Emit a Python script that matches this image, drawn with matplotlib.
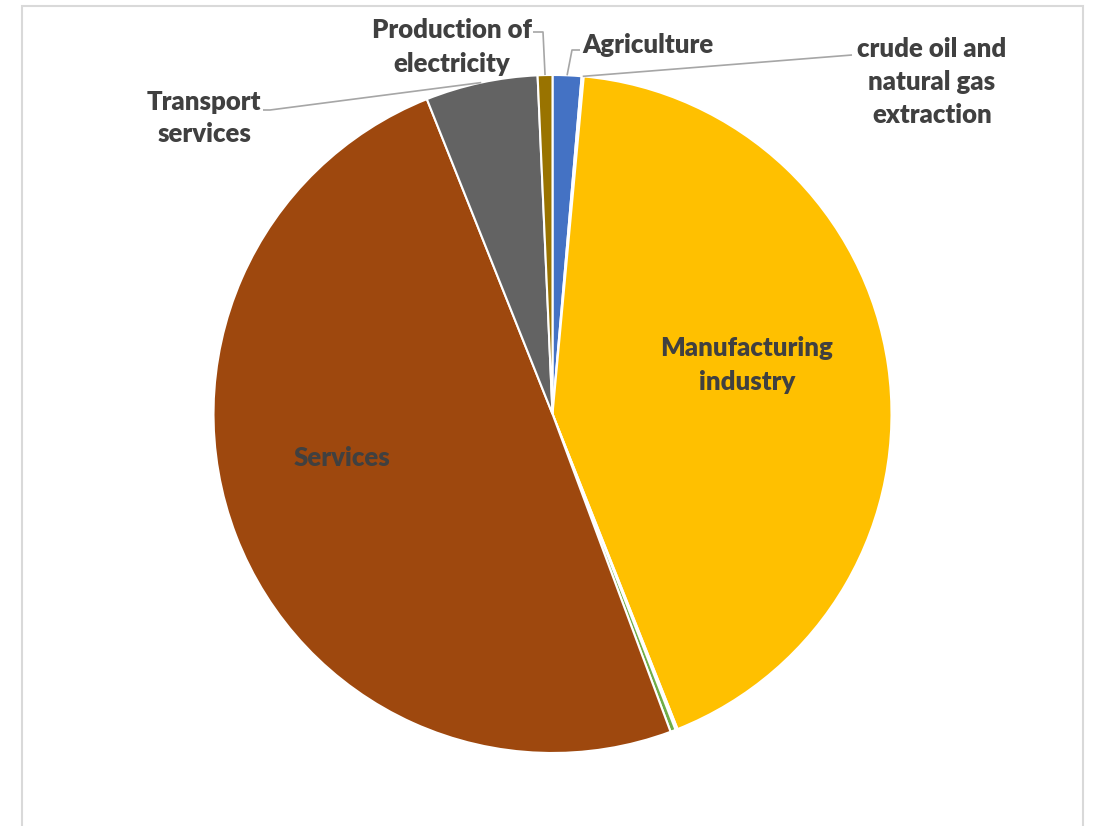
import matplotlib.pyplot as plt
import numpy as np
from matplotlib.patches import Rectangle

# ============== data ==============
sectors = ["Agriculture", "crude oil and\nnatural gas\nextraction", "Manufacturing\nindustry",
           "", "", "Services", "Transport\nservices", "Production of\nelectricity"]
shares = [1.37, 0.10, 42.5, 0.10, 0.25, 49.6, 5.34, 0.70]
colors = ['#4472C4', '#ED7D31', '#FFC000', '#5B9BD5', '#70AD47', '#9E480E', '#636363', '#997300']

plt.rcParams['font.family'] = ['Lato', 'DejaVu Sans']
W, H = 1094, 826
txt_color = '#404040'
line_color = '#A6A6A6'

fig = plt.figure(figsize=(W / 100, H / 100), dpi=100)
ax = fig.add_axes([0, 0, 1, 1])

# chart frame
ax.add_patch(Rectangle((21.5, -10), 1061.5, H - 5.5 + 10, fill=False,
                       edgecolor='#D9D9D9', linewidth=1.5))

cx, cy, r = 552.5, H - 414, 339
wedges, _ = ax.pie(shares, colors=colors, startangle=90, counterclock=False,
                   center=(cx, cy), radius=r, frame=True,
                   wedgeprops=dict(edgecolor='white', linewidth=1.5))
ax.set_xlim(0, W)
ax.set_ylim(0, H)
ax.set_aspect('equal')
ax.axis('off')


def rim(i):
    w = wedges[i]
    a = np.deg2rad((w.theta1 + w.theta2) / 2)
    return cx + r * np.cos(a), cy + r * np.sin(a)


fs = 18.5
lsp = 1.45
# labels inside
ax.text(747, H - 365, sectors[2], ha='center', va='center', fontsize=fs,
        fontweight='heavy', color=txt_color, linespacing=lsp)
ax.text(342, H - 458, sectors[5], ha='center', va='center', fontsize=fs,
        fontweight='heavy', color=txt_color)

# labels outside with leader lines
outside = {
    7: dict(pos=(452, 47), ha='center', path=[(533, 32), (543, 32)]),
    0: dict(pos=(582, 45), ha='left', path=[(580, 50), (572, 50)]),
    1: dict(pos=(932, 82), ha='center', path=[(852, 55)]),
    6: dict(pos=(204, 118), ha='center', path=[(263, 110), (270, 110)]),
}
for i, o in outside.items():
    x, y = o['pos']
    ax.text(x, H - y, sectors[i], ha=o['ha'], va='center', fontsize=fs,
            fontweight='heavy', color=txt_color, linespacing=lsp)
    px = [p[0] for p in o['path']]
    py = [H - p[1] for p in o['path']]
    rx, ry = rim(i)
    px.append(rx)
    py.append(ry)
    ax.plot(px, py, color=line_color, linewidth=1.2, solid_capstyle='butt')

fig.savefig('out.png', dpi=100)
